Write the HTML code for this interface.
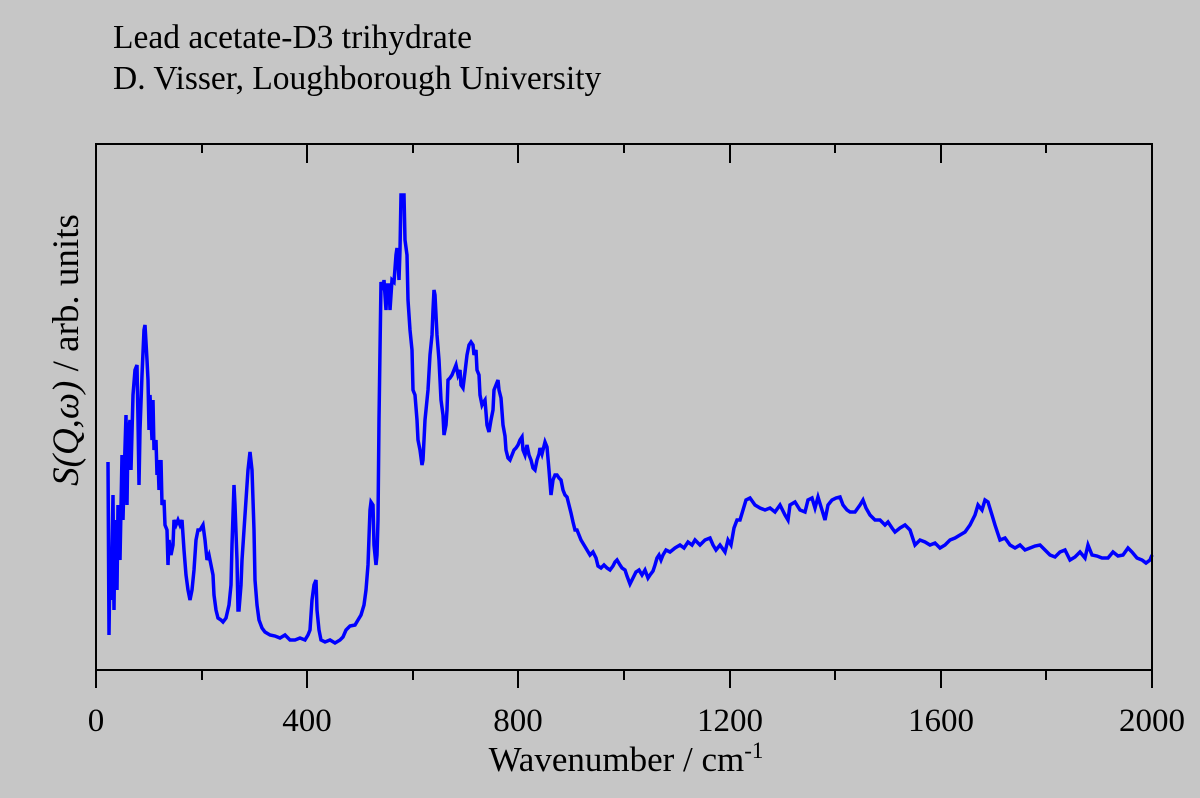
<!DOCTYPE html>
<html><head><meta charset="utf-8"><style>
html,body{margin:0;padding:0;background:#c6c6c6;}
svg{display:block;font-family:"Liberation Serif",serif;}
</style></head><body>
<svg width="1200" height="798" viewBox="0 0 1200 798" xmlns="http://www.w3.org/2000/svg">
<rect width="1200" height="798" fill="#c6c6c6"/>
<text x="113" y="48" font-size="33.5" fill="#000">Lead acetate-D3 trihydrate</text>
<text x="113" y="89" font-size="33.5" fill="#000">D. Visser, Loughborough University</text>
<polyline fill="none" stroke="#0000ff" stroke-width="3.5" stroke-linejoin="miter" points="
108,462 109,635 110,560 111,600 113,495 114,610 115,520 117,590 118,505 120,560 122,455 123,520 124,480 126,415 127,505 128,435 130,420 131,470 133,395 135,370 137,365 138,420 139,485 140,430 142,375 144,330 145,325 147,360 148,380 149,430 150,395 152,440 153,400 154,450 156,440 157,475 158,460 159,490 161,460 162,505 164,500 165,525 167,530 168,565 169,540 171,555 173,545 174,520 176,525 178,520 180,525 182,520 184,550 186,575 188,590 190,600 192,590 194,570 196,540 198,530 200,530 203,525 205,540 207,560 209,555 211,565 213,575 214,595 216,610 218,618 221,620 223,622 226,618 229,605 231,585 232,545 234,485 235,505 237,560 238,610 239,610 241,585 242,560 244,530 246,500 248,470 250,452 252,470 253,500 254,530 255,580 257,605 259,620 262,628 265,632 270,635 275,636 280,638 285,635 290,640 295,640 300,638 305,640 308,635 310,630 312,600 314,585 316,580 317,610 319,630 321,640 325,642 330,640 335,643 340,640 343,637 346,630 350,626 355,625 358,620 361,615 364,605 366,590 368,565 370,510 371,502 373,505 374,545 376,565 377,555 378,520 379,420 380,350 381,282 383,290 384,280 386,310 387,285 389,285 390,310 392,280 394,282 396,255 397,248 398,260 399,280 400,250 401,195 404,195 405,240 407,255 408,300 410,330 412,350 413,390 415,395 417,420 418,440 420,450 422,465 423,460 425,420 427,400 428,390 430,355 432,335 433,310 434,290 435,295 437,335 439,360 441,400 443,415 444,435 446,425 447,410 448,380 450,378 452,375 454,370 456,365 458,375 460,370 461,385 463,388 465,372 467,355 469,345 471,342 473,345 474,355 476,350 477,370 479,375 480,395 482,405 483,403 485,400 487,425 489,432 491,420 493,410 494,390 496,385 498,380 499,390 501,398 503,425 505,436 506,450 508,458 510,460 512,455 514,450 516,448 518,445 520,440 522,437 523,450 525,455 527,445 529,455 531,460 533,468 535,470 537,460 539,454 540,448 542,454 545,442 547,447 549,470 551,495 553,480 555,475 557,475 559,478 561,480 563,490 565,495 567,497 569,505 571,513 573,522 575,530 577,530 579,535 581,540 584,545 587,550 590,555 593,552 596,558 598,566 601,568 604,565 607,568 610,570 613,566 615,562 617,560 620,565 622,568 625,570 627,576 630,584 633,578 636,572 639,570 642,575 645,570 648,578 650,575 653,571 655,565 657,558 659,555 661,560 663,555 666,550 670,552 675,548 680,545 684,548 688,542 692,545 695,540 700,545 705,540 710,538 713,545 716,550 720,545 725,552 728,540 731,545 734,528 737,520 740,520 743,510 746,500 750,498 755,505 760,508 765,510 770,508 775,512 780,505 785,515 788,520 790,505 795,502 800,510 805,512 808,500 812,498 815,508 818,497 822,510 825,520 828,505 832,500 836,498 840,497 843,505 847,510 850,512 855,512 860,505 863,500 866,508 870,515 875,520 880,520 885,525 888,522 892,528 895,532 900,528 905,525 910,530 915,545 920,540 925,542 930,545 935,543 940,548 945,545 950,540 955,538 960,535 965,532 970,525 975,515 978,505 982,510 985,500 988,502 992,515 995,525 1000,540 1005,538 1010,545 1015,548 1020,545 1025,550 1030,548 1035,546 1040,545 1045,550 1050,555 1055,557 1060,552 1065,550 1070,560 1075,557 1080,552 1085,558 1088,545 1092,555 1097,556 1102,558 1108,558 1113,552 1118,556 1123,555 1128,548 1132,552 1137,558 1142,560 1146,563 1150,560 1152,555"/>
<g stroke="#000" stroke-width="2" fill="none">
<rect x="96" y="144" width="1056" height="526"/>
<path d="M96,670V688 M307,670V688 M518,670V688 M730,670V688 M941,670V688 M1152,670V688
M202,670V680 M413,670V680 M624,670V680 M835,670V680 M1046,670V680
M307,144V163 M518,144V163 M730,144V163 M941,144V163
M202,144V153 M413,144V153 M624,144V153 M835,144V153 M1046,144V153"/>
</g>
<g font-size="33" fill="#000" text-anchor="middle">
<text x="96" y="731">0</text>
<text x="307" y="731">400</text>
<text x="518" y="731">800</text>
<text x="730" y="731">1200</text>
<text x="941" y="731">1600</text>
<text x="1152" y="731">2000</text>
</g>
<text x="626" y="771" font-size="35" text-anchor="middle" fill="#000">Wavenumber / cm<tspan dy="-13" font-size="23">-1</tspan></text>
<text transform="translate(78,350) rotate(-90)" font-size="37" text-anchor="middle" fill="#000"><tspan font-style="italic">S(Q,ω)</tspan> / arb. units</text>
</svg>
</body></html>
